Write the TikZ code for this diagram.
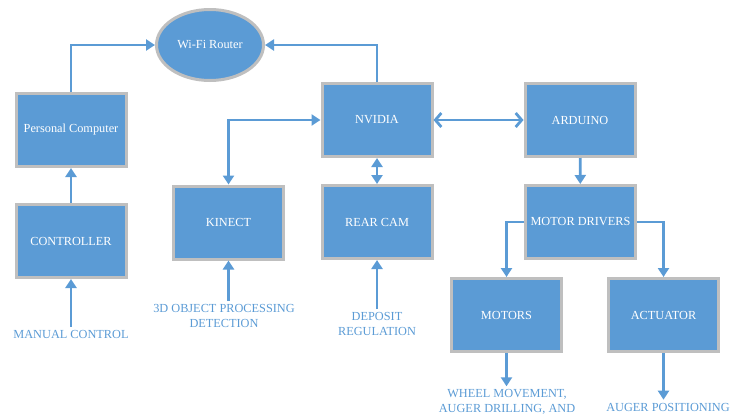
\documentclass[tikz,border=0pt]{standalone}
\usepackage{fontspec}
\setmainfont{Liberation Serif}
\usetikzlibrary{arrows.meta,
                positioning,
                shapes.geometric}
\definecolor{boxblue}{RGB}{91,155,213}
\definecolor{boxgray}{RGB}{191,191,191}
\tikzset{
       arr/.style = {-{Triangle[length=9pt,width=11pt]}, line width=2.8pt, boxblue},   % filled heads
   twoways/.style = {{Triangle[length=9pt,width=11pt]}-{Triangle[length=9pt,width=11pt]},
                     line width=2.8pt, boxblue},
  openways/.style = {{Straight Barb[length=6pt,width=14pt]}-{Straight Barb[length=6pt,width=14pt]},
                     line width=2.8pt, boxblue},
      base/.style = {draw=boxgray, line width=3pt, fill=boxblue,
                     text=white, font=\fontsize{12.3}{14}\selectfont, align=center},
     block/.style = {base, rectangle, minimum width=110pt, minimum height=73pt},
    router/.style = {base, ellipse, minimum width=107pt, minimum height=71pt},
    remark/.style = {text=boxblue, font=\fontsize{12.3}{15}\selectfont,
                     align=center, inner sep=3pt},
        }
\begin{document}
\begin{tikzpicture}[x=1pt,y=-1pt]
  \useasboundingbox (0,0) rectangle (746,418);
  % blocks
  \node[router] (wifi)     at (210,45)      {Wi-Fi Router};
  \node[block]  (pc)       at (71,130)      {Personal Computer};
  \node[block]  (ctrl)     at (71,241)      {CONTROLLER};
  \node[block]  (kinect)   at (228.5,222.5) {KINECT};
  \node[block]  (nvidia)   at (377,120)     {NVIDIA};
  \node[block]  (arduino)  at (580,120)     {ARDUINO};
  \node[block]  (rearcam)  at (377,222)     {REAR CAM};
  \node[block]  (drivers)  at (580.5,222)   {MOTOR DRIVERS};
  \node[block]  (motors)   at (506.5,315)   {MOTORS};
  \node[block]  (actuator) at (663.5,315)   {ACTUATOR};
  % side texts
  \node[remark] (manual)  at (71,334)  {MANUAL CONTROL};
  \node[remark] (objdet)  at (224,316) {3D OBJECT PROCESSING\\DETECTION};
  \node[remark] (deposit) at (377,324) {DEPOSIT\\REGULATION};
  \node[remark] (wheel)   at (507,402) {WHEEL MOVEMENT,\\AUGER DRILLING, AND};
  \node[remark] (auger)   at (668,407) {AUGER POSITIONING};
  % connectors
  \draw[arr] (pc.north) |- (wifi.west);
  \draw[arr] (nvidia.north) |- (wifi.east);
  \draw[arr] (ctrl) -- (pc);
  \draw[arr] (manual.north) -- (ctrl.south);
  \draw[twoways] (kinect.north) |- (nvidia.west);
  \draw[arr] (kinect.south |- objdet.north) -- (kinect.south);
  \draw[twoways] (nvidia) -- (rearcam);
  \draw[arr] (deposit.north) -- (rearcam.south);
  \draw[openways] (nvidia) -- (arduino);
  \draw[arr] (arduino) -- (drivers);
  \draw[arr] (drivers.west) -| (motors.north);
  \draw[arr] (drivers.east) -| (actuator.north);
  \draw[arr] (motors.south) -- (motors.south |- wheel.north);
  \draw[arr] (actuator.south) -- (actuator.south |- auger.north);
\end{tikzpicture}
\end{document}
